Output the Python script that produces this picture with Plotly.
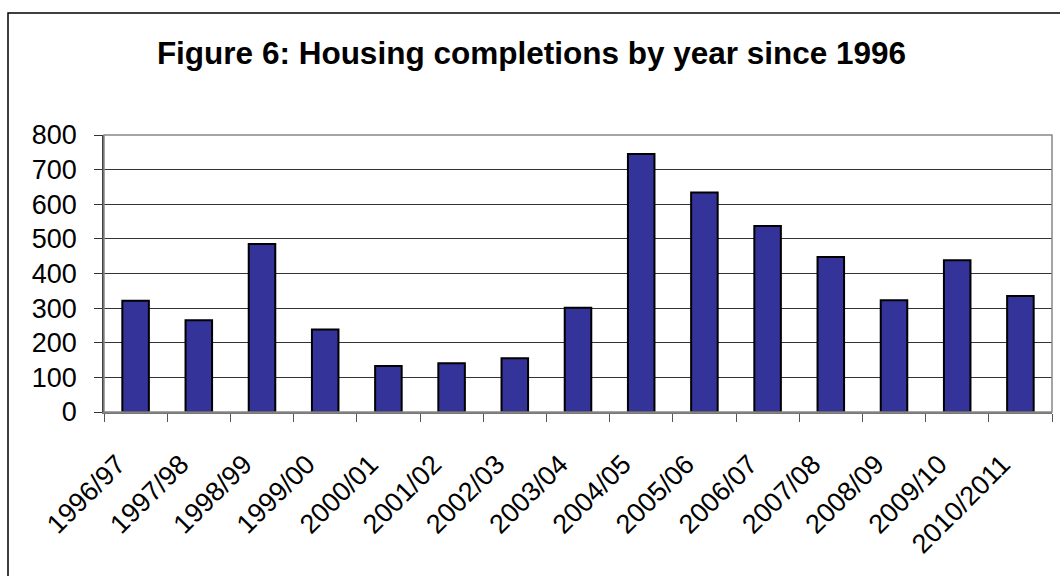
import plotly.graph_objects as go

categories = ["1996/97", "1997/98", "1998/99", "1999/00", "2000/01", "2001/02", "2002/03",
              "2003/04", "2004/05", "2005/06", "2006/07", "2007/08", "2008/09", "2009/10", "2010/2011"]
completions = [321, 265, 485, 238, 133, 141, 155, 301, 745, 634, 537, 448, 323, 438, 335]
y_ticks = [0, 100, 200, 300, 400, 500, 600, 700, 800]

W, H = 1060, 576
L, R, T, B = 104, 8, 135, 164
pw, ph = W - L - R, H - T - B
FONT = "Arial, Liberation Sans, sans-serif"

fig = go.Figure(go.Bar(
    x=categories, y=completions,
    marker=dict(color="#333399", line=dict(color="black", width=2)),
))

fig.update_layout(
    width=W, height=H,
    margin=dict(l=L, r=R, t=T, b=B, pad=0),
    paper_bgcolor="white", plot_bgcolor="white",
    bargap=0.58,
    showlegend=False,
    font=dict(family=FONT, color="black"),
    title=dict(text="<b>Figure 6: Housing completions by year since 1996</b>",
               x=(156 + 907) / 2 / W, xanchor="center", y=1 - 53 / H, yanchor="middle",
               font=dict(size=31.5, family=FONT, color="black")),
)

fig.update_xaxes(
    type="category", tickangle=-45, tickfont=dict(size=27),
    ticks="outside", ticklen=8, tickcolor="#555", tickson="boundaries",
    showline=True, linecolor="#777", linewidth=1.5, mirror=False,
    showgrid=False, ticklabelstandoff=24, ticklabelshift=-18,
)
fig.update_yaxes(
    range=[0, 800], tickvals=y_ticks, tickfont=dict(size=27),
    ticks="outside", ticklen=8, tickcolor="#333",
    showline=True, linecolor="#444", linewidth=1.5,
    showgrid=True, gridcolor="#333", gridwidth=1,
    zeroline=False, ticklabelstandoff=12,
)

# plot area border (top/right grey)
fig.add_shape(type="rect", xref="paper", yref="paper", x0=0, y0=0, x1=1, y1=1,
              line=dict(color="#888", width=1.5))
# outer chart border (right and bottom edges fall outside the picture)
fig.add_shape(type="rect", xref="paper", yref="paper",
              x0=-(L - 8) / pw, x1=1 + (R + 10) / pw,
              y0=-(B + 10) / ph, y1=1 + (T - 13) / ph,
              line=dict(color="black", width=1.5))

fig.write_html("out.html")
